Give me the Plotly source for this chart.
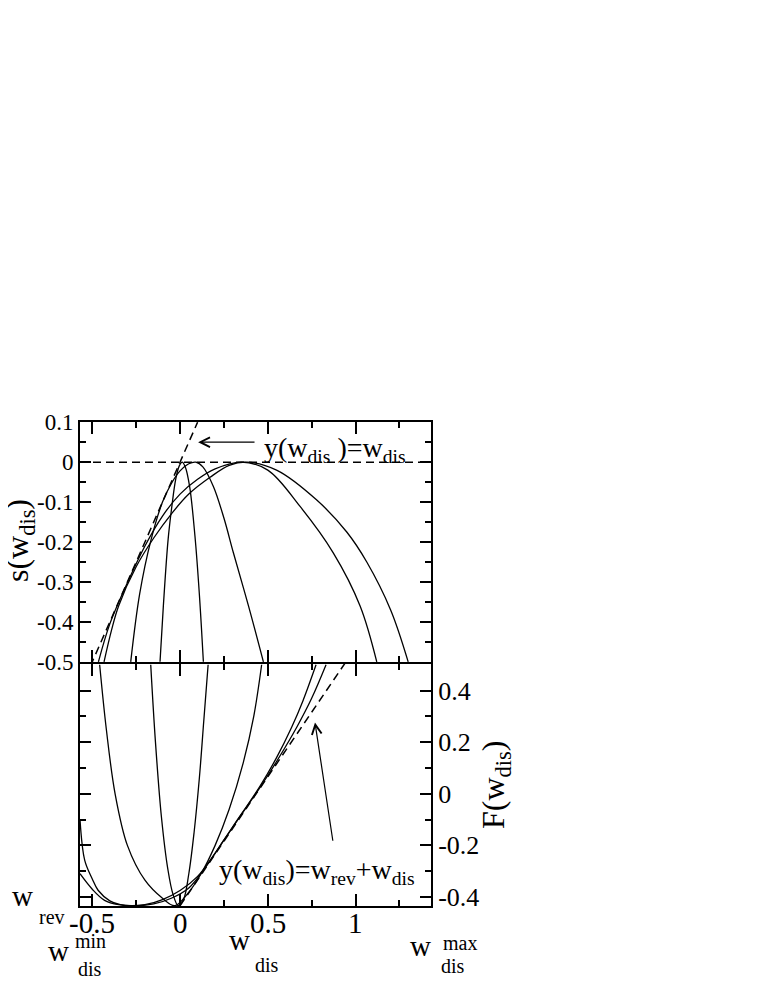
import plotly.graph_objects as go

# ---------------- data ----------------
# top panel: s(w_dis)
top_c1_w = [-0.114, -0.095, -0.068, -0.045, -0.025, -0.005, 0.012, 0.03, 0.055, 0.085, 0.11, 0.133]
top_c1_s = [-0.5, -0.36, -0.194, -0.105, -0.044, -0.01, 0.0, -0.012, -0.062, -0.185, -0.33, -0.5]

top_c2_w = [-0.281, -0.23, -0.165, -0.10, -0.05, 0.0, 0.05, 0.09, 0.13, 0.19, 0.25, 0.304, 0.39, 0.475]
top_c2_s = [-0.5, -0.33, -0.194, -0.10, -0.054, -0.022, -0.004, 0.0, -0.012, -0.061, -0.14, -0.227, -0.36, -0.5]

top_c3_w = [-0.465, -0.40, -0.30, -0.20, -0.10, 0.00, 0.10, 0.20, 0.35, 0.50, 0.684, 0.873, 1.026, 1.121]
top_c3_s = [-0.5, -0.405, -0.302, -0.21, -0.135, -0.08, -0.043, -0.017, 0.0, -0.02, -0.111, -0.227, -0.36, -0.5]

top_c4_w = [-0.433, -0.39, -0.35, -0.25, -0.15, -0.05, 0.05, 0.171, 0.28, 0.38, 0.55, 0.779, 0.95, 1.064, 1.2, 1.30]
top_c4_s = [-0.5, -0.42, -0.36, -0.262, -0.19, -0.13, -0.08, -0.038, -0.008, 0.0, -0.02, -0.095, -0.175, -0.25, -0.37, -0.5]

top_line_w = [-0.6, 0.1]          # y(w_dis) = w_dis
top_line_s = [-0.6, 0.1]
top_zero_w = [-0.57, 1.43]        # s = 0
top_zero_s = [0.0, 0.0]

# bottom panel: F(w_dis)
w_rev = -0.434
bot_a_w = [-0.167, -0.14, -0.106, -0.07, -0.04, -0.01, 0.02, 0.05, 0.08, 0.11, 0.135, 0.16]
bot_a_f = [0.5, 0.2, -0.09, -0.29, -0.39, -0.434, -0.41, -0.31, -0.15, 0.06, 0.28, 0.5]

bot_b_w = [-0.458, -0.42, -0.37, -0.3, -0.2, -0.1, -0.03, 0.04, 0.12, 0.2, 0.28, 0.36, 0.42, 0.465]
bot_b_f = [0.5, 0.25, 0.0, -0.2, -0.335, -0.405, -0.434, -0.39, -0.31, -0.2, -0.06, 0.12, 0.3, 0.5]

bot_c_w = [-0.57, -0.543, -0.5, -0.467, -0.4, -0.34, -0.277, -0.2, -0.1, 0.0, 0.1, 0.2, 0.3, 0.456, 0.55, 0.636, 0.70, 0.775]
bot_c_f = [-0.10, -0.258, -0.33, -0.374, -0.415, -0.43, -0.434, -0.43, -0.41, -0.375, -0.32, -0.23, -0.128, 0.03, 0.14, 0.258, 0.36, 0.5]

bot_d_w = [-0.57, -0.5, -0.43, -0.35, -0.25, -0.15, -0.05, 0.05, 0.15, 0.25, 0.35, 0.456, 0.55, 0.665, 0.75, 0.832]
bot_d_f = [-0.31, -0.37, -0.413, -0.43, -0.434, -0.427, -0.405, -0.365, -0.28, -0.18, -0.08, 0.025, 0.125, 0.258, 0.37, 0.5]

bot_line_w = [0.0, 1.0]           # y(w_dis) = w_rev + w_dis
bot_line_f = [w_rev + 0.0, w_rev + 1.0]

x_tick_vals = [-0.5, 0, 0.5, 1]
x_tick_text = ["-0.5", "0", "0.5", "1"]
x_minor_vals = [-0.25, 0.25, 0.75, 1.25]
top_y_vals = [-0.5, -0.4, -0.3, -0.2, -0.1, 0, 0.1]
top_y_text = ["-0.5", "-0.4", "-0.3", "-0.2", "-0.1", "0", "0.1"]
top_y_minor = [-0.45, -0.35, -0.25, -0.15, -0.05, 0.05]
bot_y_vals = [-0.4, -0.2, 0, 0.2, 0.4]
bot_y_text = ["-0.4", "-0.2", "0", "0.2", "0.4"]
bot_y_minor = [-0.3, -0.1, 0.1, 0.3]

# ---------------- figure ----------------
FONT = "Liberation Serif, Times New Roman, Times, serif"
fig = go.Figure()

solid = dict(color="black", width=1.3)
dashed = dict(color="black", width=1.5, dash="8px,5px")

for w, s in [(top_c1_w, top_c1_s), (top_c2_w, top_c2_s), (top_c3_w, top_c3_s), (top_c4_w, top_c4_s)]:
    fig.add_trace(go.Scatter(x=w, y=s, mode="lines", line=dict(solid, shape="spline", smoothing=1.0),
                             xaxis="x2", yaxis="y2", showlegend=False, hoverinfo="skip"))
fig.add_trace(go.Scatter(x=top_line_w, y=top_line_s, mode="lines", line=dashed,
                         xaxis="x2", yaxis="y2", showlegend=False))
fig.add_trace(go.Scatter(x=top_zero_w, y=top_zero_s, mode="lines", line=dashed,
                         xaxis="x2", yaxis="y2", showlegend=False))

for w, f in [(bot_a_w, bot_a_f), (bot_b_w, bot_b_f), (bot_c_w, bot_c_f), (bot_d_w, bot_d_f)]:
    fig.add_trace(go.Scatter(x=w, y=f, mode="lines", line=dict(solid, shape="spline", smoothing=1.0),
                             xaxis="x", yaxis="y", showlegend=False, hoverinfo="skip"))
fig.add_trace(go.Scatter(x=bot_line_w, y=bot_line_f, mode="lines", line=dashed,
                         xaxis="x", yaxis="y", showlegend=False))

ax_common = dict(showgrid=False, zeroline=False, showline=True, linecolor="black", linewidth=2,
                 mirror="allticks", ticks="inside", tickcolor="black", tickwidth=1.6)

XR = [-0.57, 1.43]
# page body has an 8px margin: figure is placed at (8, 8) in the window
fig.update_layout(
    width=755, height=979,
    margin=dict(l=72, r=332, t=414, b=81),
    paper_bgcolor="white", plot_bgcolor="white",
    font=dict(family=FONT, color="black"),
    xaxis=dict(ax_common, domain=[0, 1], range=XR, anchor="y",
               tickmode="array", tickvals=x_tick_vals, ticklen=12, showticklabels=False,
               minor=dict(tickmode="array", tickvals=x_minor_vals, ticks="inside", ticklen=6,
                          tickcolor="black", tickwidth=1.6)),
    xaxis2=dict(ax_common, domain=[0, 1], range=XR, anchor="y2", matches="x",
                tickmode="array", tickvals=x_tick_vals, ticklen=12, showticklabels=False,
                minor=dict(tickmode="array", tickvals=x_minor_vals, ticks="inside", ticklen=6,
                           tickcolor="black", tickwidth=1.6)),
    yaxis=dict(ax_common, domain=[0, 0.5], range=[-0.435, 0.503], anchor="x", side="right",
               tickmode="array", tickvals=bot_y_vals, ticktext=bot_y_text, ticklen=11,
               tickfont=dict(size=26, family=FONT, color="black"),
               minor=dict(tickmode="array", tickvals=bot_y_minor, ticks="inside", ticklen=6,
                          tickcolor="black", tickwidth=1.6)),
    yaxis2=dict(ax_common, domain=[0.5041, 1], range=[-0.5005, 0.1005], anchor="x2", side="left",
                tickmode="array", tickvals=top_y_vals, ticktext=top_y_text, ticklen=11,
                tickfont=dict(size=23, family=FONT, color="black"),
                minor=dict(tickmode="array", tickvals=top_y_minor, ticks="inside", ticklen=6,
                           tickcolor="black", tickwidth=1.6)),
)


# helpers: window pixel -> paper fraction (plot area spans x 80..431, y 422..906 in the window)
def px(xp):
    return (xp - 80) / 351.0


def py(yp):
    return (906 - yp) / 484.0


def label(text, xp, yp, size, angle=0, xanchor="center"):
    fig.add_annotation(text=text, x=px(xp), y=py(yp), xref="paper", yref="paper",
                       showarrow=False, textangle=angle, xanchor=xanchor, yanchor="middle",
                       font=dict(size=size, family=FONT, color="black"))


# x tick labels of the bottom axis, placed at the tick values
for v, t in zip(x_tick_vals, x_tick_text):
    fig.add_annotation(text=t, x=v, xref="x", y=py(923), yref="paper", showarrow=False,
                       xanchor="center", yanchor="middle",
                       font=dict(size=29, family=FONT, color="black"))

label("y(w<sub>dis</sub> )=w<sub>dis</sub>", 262, 449, 28, xanchor="left")
label("y(w<sub>dis</sub>)=w<sub>rev</sub>+w<sub>dis</sub>", 217, 871, 28, xanchor="left")
label("s(w<sub>dis</sub>)", 19, 540, 32, angle=-90)
label("F(w<sub>dis</sub>)", 495, 785, 32, angle=-90)
# w_rev
label("w", 22, 896, 29)
label("rev", 52, 917, 20)
# w_dis min
label("w", 58, 951, 29)
label("min", 90, 941, 20)
label("dis", 90, 969, 20)
# w_dis (axis title)
label("w", 239, 940, 29)
label("dis", 267, 965, 20)
# w_dis max
label("w", 420, 946, 29)
label("max", 460, 943, 20)
label("dis", 453, 966, 20)

# arrows
fig.add_annotation(x=0.103, y=0.05, ax=0.433, ay=0.05, xref="x2", yref="y2", axref="x2", ayref="y2",
                   text="", showarrow=True, arrowhead=5, arrowsize=1.6, arrowwidth=1.2, arrowcolor="black")
fig.add_annotation(x=0.769, y=0.276, ax=0.872, ay=-0.188, xref="x", yref="y", axref="x", ayref="y",
                   text="", showarrow=True, arrowhead=5, arrowsize=1.6, arrowwidth=1.2, arrowcolor="black")

fig.write_html("out.html")
